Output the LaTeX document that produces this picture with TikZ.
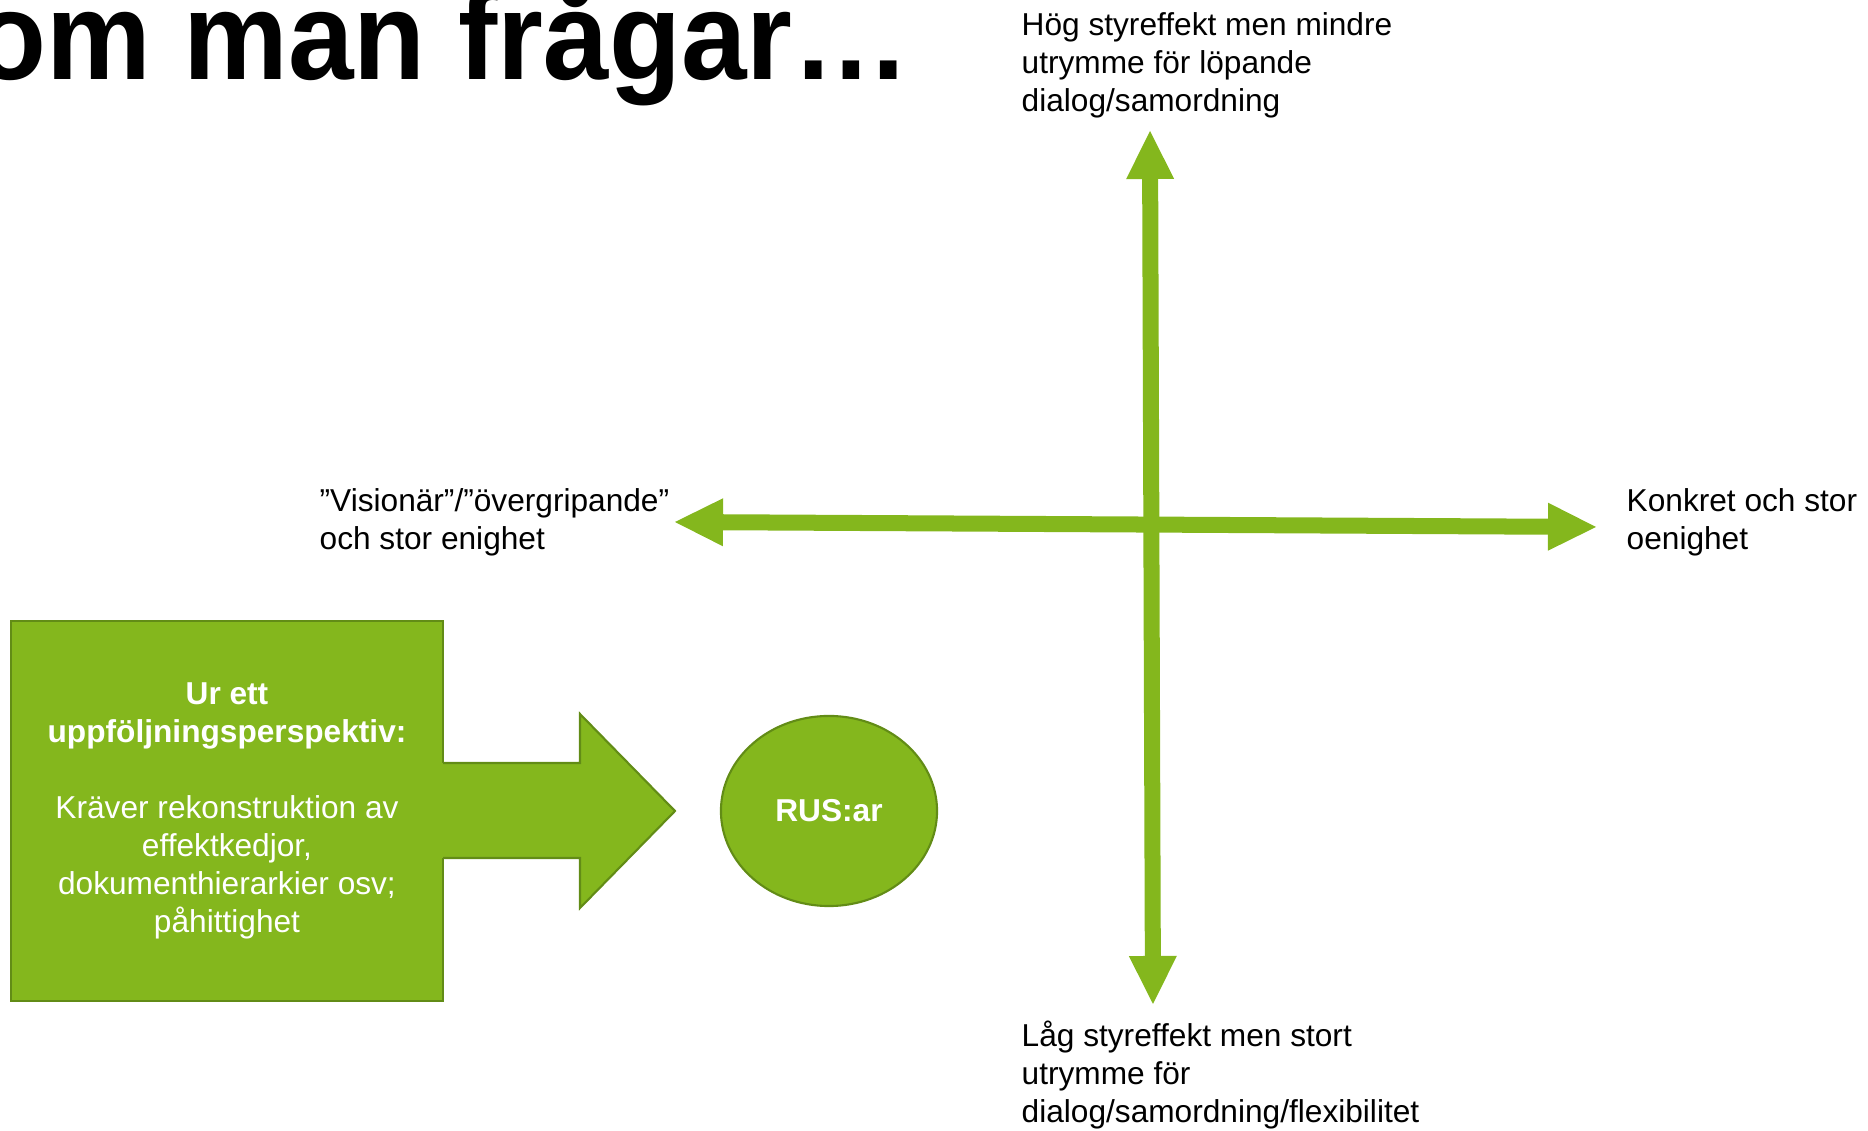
\documentclass[tikz,border=0pt]{standalone}
\usepackage{fontspec}
\setmainfont{Liberation Sans}
\usetikzlibrary{arrows.meta,shapes.geometric}
\definecolor{leafgreen}{RGB}{132,183,29}
\definecolor{leafdark}{RGB}{98,140,22}

\begin{document}
\begin{tikzpicture}[x=0.01cm, y=-0.01cm,
        axistext/.style = {anchor=north west, inner sep=0, align=left,
            font=\fontsize{9}{10.8}\selectfont},
        axis/.style = {leafgreen, line width=0.16cm,
            {Triangle[length=0.48cm,width=0.48cm,line width=0pt]}-{Triangle[length=0.48cm,width=0.48cm,line width=0pt]}},
        greenbox/.style = {rectangle,
            fill=leafgreen, draw=leafdark, line width=0.6pt,
            minimum width=4.32cm, minimum height=3.8cm,
            align=center, text=white,
            font=\fontsize{9}{10.8}\selectfont},
        rus/.style = {ellipse,
            fill=leafgreen, draw=leafdark, line width=0.6pt,
            minimum width=2.16cm, minimum height=1.9cm, inner sep=0,
            text=white, font=\fontsize{9}{10.8}\selectfont\bfseries}]

        \useasboundingbox (0,0) rectangle (1868,1131);

        % Title (cut at the left edge)
        \node[anchor=base east, inner sep=0,
            font=\fontsize{33.5}{40}\selectfont\bfseries] (title) at (911,80) {\scalebox{1}[1.06]{om man frågar…}};

        % Axis ends
        \coordinate (ax-up) at (1150,131);
        \coordinate (ax-down) at (1153,1004);
        \coordinate (ax-left) at (675,522);
        \coordinate (ax-right) at (1596,527);

        % Axis texts
        \node[axistext] (hog) at (1021,12) {Hög styreffekt men mindre\\utrymme för löpande\\dialog/samordning};
        \node[axistext] (vision) at (319,488) {”Visionär”/”övergripande”\\och stor enighet};
        \node[axistext] (konkret) at (1626,488) {Konkret och stor\\oenighet};
        \node[axistext] (lag) at (1021,1020) {Låg styreffekt men stort\\utrymme för\\dialog/samordning/flexibilitet};

        % Axes
        \draw[axis] (ax-down) -- (ax-up);
        \draw[axis] (ax-left) -- (ax-right);

        % Box
        \node[greenbox] (perspektiv) at (227,811) {\textbf{Ur ett}\\\textbf{uppföljningsperspektiv:}\\[10.8pt]Kräver rekonstruktion av\\effektkedjor,\\dokumenthierarkier osv;\\påhittighet};

        % Block arrow
        \fill[leafgreen] (441,763) -- (580,763) -- (580,714) -- (675,811) -- (580,908) -- (580,858) -- (441,858) -- cycle;
        \draw[leafdark, line width=0.6pt] (443,763) -- (580,763) -- (580,714) -- (675,811) -- (580,908) -- (580,858) -- (443,858);

        % RUS:ar
        \node[rus] (rus) at (829,811) {RUS:ar};

    \end{tikzpicture}
\end{document}
